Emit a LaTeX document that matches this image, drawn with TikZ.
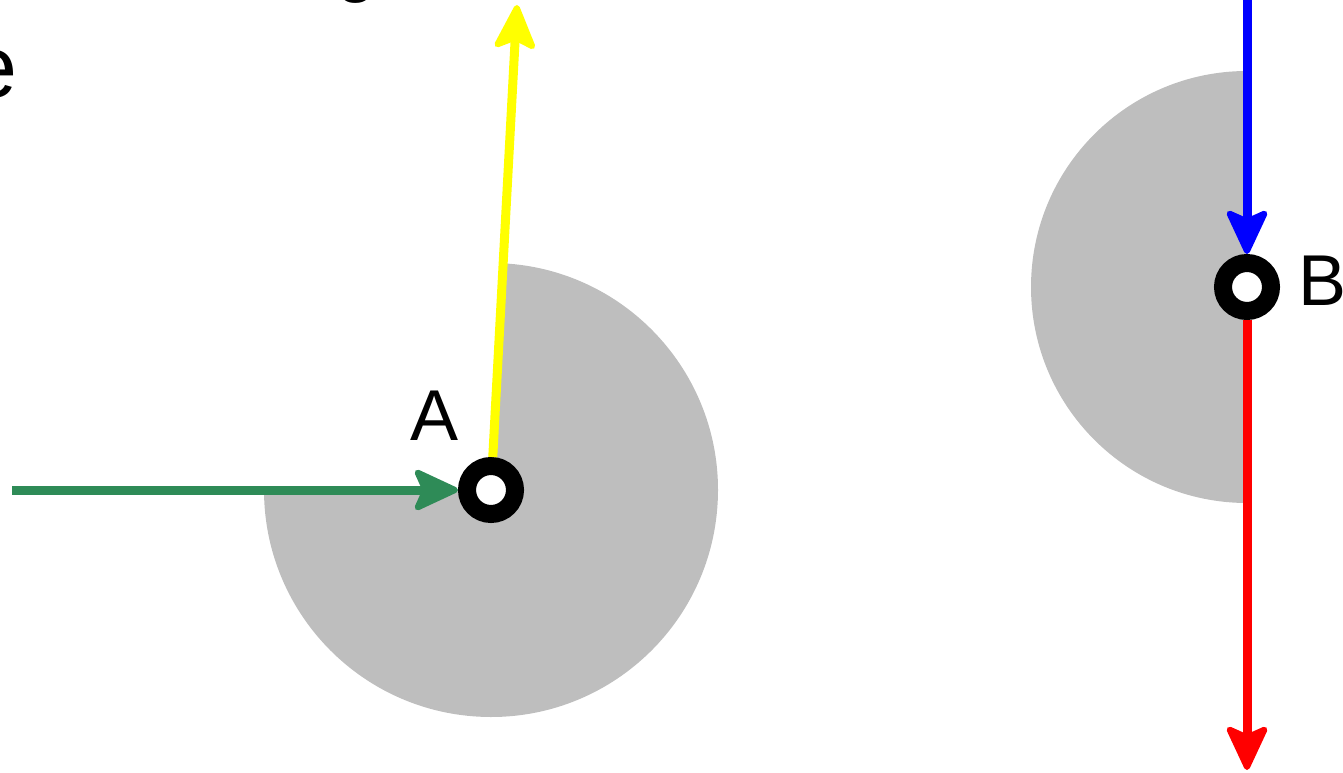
\documentclass[tikz,border=0pt]{standalone}
\usepackage{fontspec}
\setmainfont{Liberation Sans}
\usetikzlibrary{arrows.meta, positioning, calc}
\definecolor{cSector}{HTML}{BEBEBE}
\definecolor{cIn}{HTML}{2E8B57}
\definecolor{cUp}{HTML}{FFFF00}
\definecolor{cDown}{HTML}{0000FF}
\definecolor{cOut}{HTML}{FF0000}

\begin{document}
\begin{tikzpicture}[
    x=1pt, y=1pt,
    % joint ring
    joint/.style={circle, draw=black, fill=white, line width=18pt, minimum size=48pt, inner sep=0pt},
    lbl/.style={font=\fontsize{72}{80}\selectfont, inner sep=0pt},
    % vector style
    vec/.style={line width=9pt, line join=round, -{Stealth[length=50pt, width=46pt, inset=10pt, line join=round, line width=6pt, fill=.]}}
]
\useasboundingbox (0,0) rectangle (1343,772);

% --- cut-off texts ---
\node[font=\fontsize{88}{96}\selectfont, inner sep=0pt, anchor=base east] (cutE) at (18,674) {e};
\node[font=\fontsize{72}{80}\selectfont, inner sep=0pt, anchor=south] (cutG) at (357,768) {g};

% --- JOINT A ---
\coordinate (cA) at (491,282);
\fill[cSector] (cA) -- ++(87:227) arc[start angle=87, end angle=-180, radius=227] -- cycle;
\node[joint] (ptA) at (cA) {};
\node[lbl] (lblA) at ([xshift=-56pt, yshift=74pt]ptA.center) {A};

\coordinate (inStart) at (12,282);
\coordinate (upEnd) at (517,767);
\draw[vec, cIn] (inStart) -- (ptA);
\draw[vec, cUp] (ptA) -- (upEnd);

% --- JOINT B ---
\coordinate (cB) at (1247,485);
\fill[cSector] (cB) -- ++(90:216) arc[start angle=90, end angle=270, radius=216] -- cycle;
\node[joint] (ptB) at (cB) {};
\node[lbl, right=18pt of ptB, yshift=6pt] (lblB) {B};

\coordinate (downStart) at (1247,790);
\coordinate (outEnd) at (1247,2);
\draw[vec, cDown] (downStart) -- (ptB);
\draw[vec, cOut] (ptB) -- (outEnd);

\end{tikzpicture}
\end{document}
